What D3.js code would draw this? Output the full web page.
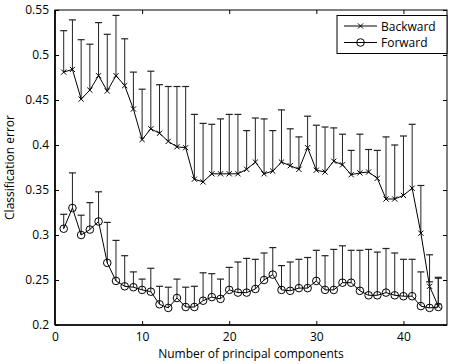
<!DOCTYPE html>
<html><head><meta charset="utf-8">
<script src="https://cdn.jsdelivr.net/npm/d3@7"></script>
<style>body{margin:0;background:#fff;} text{font-family:"Open Sans",sans-serif;}</style>
</head><body>
<svg id="c" width="450" height="364"></svg>
<script>
const components = [1,2,3,4,5,6,7,8,9,10,11,12,13,14,15,16,17,18,19,20,21,22,23,24,25,26,27,28,29,30,31,32,33,34,35,36,37,38,39,40,41,42,43,44];
const backwardMean = [0.481,0.484,0.451,0.461,0.477,0.460,0.477,0.466,0.440,0.406,0.418,0.413,0.404,0.398,0.397,0.362,0.359,0.368,0.368,0.368,0.368,0.373,0.381,0.368,0.371,0.381,0.377,0.373,0.397,0.372,0.370,0.382,0.378,0.367,0.369,0.370,0.363,0.340,0.340,0.344,0.352,0.302,0.243,0.221];
const backwardUpper = [0.527,0.539,0.517,0.512,0.536,0.523,0.544,0.518,0.481,0.462,0.482,0.467,0.465,0.465,0.465,0.434,0.424,0.423,0.429,0.434,0.434,0.416,0.430,0.429,0.416,0.439,0.418,0.409,0.432,0.422,0.420,0.419,0.412,0.394,0.412,0.395,0.394,0.409,0.400,0.410,0.423,0.355,0.278,0.253];
const forwardMean = [0.307,0.330,0.300,0.306,0.315,0.269,0.249,0.243,0.242,0.239,0.237,0.223,0.219,0.230,0.220,0.220,0.227,0.231,0.229,0.239,0.236,0.236,0.240,0.250,0.256,0.239,0.238,0.241,0.241,0.249,0.239,0.239,0.247,0.247,0.238,0.233,0.233,0.236,0.233,0.232,0.232,0.221,0.219,0.220];
const forwardUpper = [0.323,0.369,0.322,0.336,0.348,0.314,0.294,0.277,0.259,0.251,0.263,0.243,0.242,0.251,0.242,0.243,0.258,0.257,0.251,0.264,0.270,0.274,0.273,0.280,0.286,0.266,0.270,0.273,0.275,0.283,0.277,0.284,0.288,0.283,0.283,0.284,0.281,0.285,0.280,0.273,0.273,0.259,0.248,0.252];
const xTicks = [0,10,20,30,40];
const yTicks = [0.2,0.25,0.3,0.35,0.4,0.45,0.5,0.55];
const seriesNames = ["Backward","Forward"];
const xLabel = "Number of principal components";
const yLabel = "Classification error";

const svg = d3.select("#c");
const L=55, R=447, T=10, B=325;
const x = d3.scaleLinear().domain([0,45]).range([L,R]);
const y = d3.scaleLinear().domain([0.2,0.55]).range([B,T]);

const gx = svg.append("g").attr("transform",`translate(0,${B})`)
  .call(d3.axisBottom(x).tickValues(xTicks).tickSize(-4).tickPadding(7).tickFormat(d3.format("d")));
const gy = svg.append("g").attr("transform",`translate(${L},0)`)
  .call(d3.axisLeft(y).tickValues(yTicks).tickSize(-4).tickPadding(6).tickFormat(d=>String(+d.toFixed(2))));
const gxt = svg.append("g").attr("transform",`translate(0,${T})`)
  .call(d3.axisTop(x).tickValues(xTicks).tickSize(-4).tickFormat(""));
const gyr = svg.append("g").attr("transform",`translate(${R},0)`)
  .call(d3.axisRight(y).tickValues(yTicks).tickSize(-4).tickFormat(""));
[gx,gy,gxt,gyr].forEach(g=>{
  g.select(".domain").remove();
  g.selectAll("line").attr("stroke","#000");
  g.selectAll("text").attr("fill","#000").style("font-size","12px").style("font-family","'Open Sans',sans-serif");
});
svg.append("rect").attr("x",L).attr("y",T).attr("width",R-L).attr("height",B-T)
  .attr("fill","none").attr("stroke","#000").attr("stroke-width",1);
svg.append("line").attr("x1",L).attr("x2",L).attr("y1",T).attr("y2",B).attr("stroke","#000").attr("stroke-width",1.6);
svg.append("line").attr("x1",L).attr("x2",R).attr("y1",B).attr("y2",B).attr("stroke","#000").attr("stroke-width",1.6);

svg.append("text").attr("x",(L+R)/2).attr("y",358).attr("text-anchor","middle")
  .style("font-size","12px").text(xLabel);
svg.append("text").attr("transform",`translate(14,${(T+B)/2}) rotate(-90)`).attr("text-anchor","middle")
  .style("font-size","12px").text(yLabel);

function drawSeries(mean, upper, marker){
  const g = svg.append("g");
  components.forEach((c,i)=>{
    g.append("line").attr("x1",x(c)).attr("x2",x(c)).attr("y1",y(mean[i])).attr("y2",y(upper[i]))
      .attr("stroke","#222").attr("stroke-width",1);
    g.append("line").attr("x1",x(c)-3.5).attr("x2",x(c)+3.5).attr("y1",y(upper[i])).attr("y2",y(upper[i]))
      .attr("stroke","#222").attr("stroke-width",1.2);
  });
  const line = d3.line().x((d,i)=>x(components[i])).y(d=>y(d));
  g.append("path").datum(mean).attr("d",line).attr("fill","none").attr("stroke","#000").attr("stroke-width",1);
  components.forEach((c,i)=>drawMarker(g, x(c), y(mean[i]), marker));
}
function drawMarker(g, cx, cy, marker){
  if(marker==="x"){
    const s=2.6;
    g.append("path").attr("d",`M${cx-s},${cy-s}L${cx+s},${cy+s}M${cx-s},${cy+s}L${cx+s},${cy-s}`)
      .attr("stroke","#000").attr("stroke-width",1).attr("fill","none");
  } else {
    g.append("circle").attr("cx",cx).attr("cy",cy).attr("r",3.8)
      .attr("fill","none").attr("stroke","#000").attr("stroke-width",1);
  }
}
drawSeries(backwardMean, backwardUpper, "x");
drawSeries(forwardMean, forwardUpper, "o");

const lg = svg.append("g");
lg.append("rect").attr("x",337).attr("y",15.5).attr("width",110).attr("height",38)
  .attr("fill","#fff").attr("stroke","#000").attr("stroke-width",1);
[["x",0],["o",1]].forEach(([m,k])=>{
  const ly = 26 + k*16.5;
  lg.append("line").attr("x1",344).attr("x2",377).attr("y1",ly).attr("y2",ly).attr("stroke","#000");
  drawMarker(lg, 360.5, ly, m);
  lg.append("text").attr("x",381).attr("y",ly+4.5).style("font-size","12px").text(seriesNames[k]);
});
</script>
</body></html>
